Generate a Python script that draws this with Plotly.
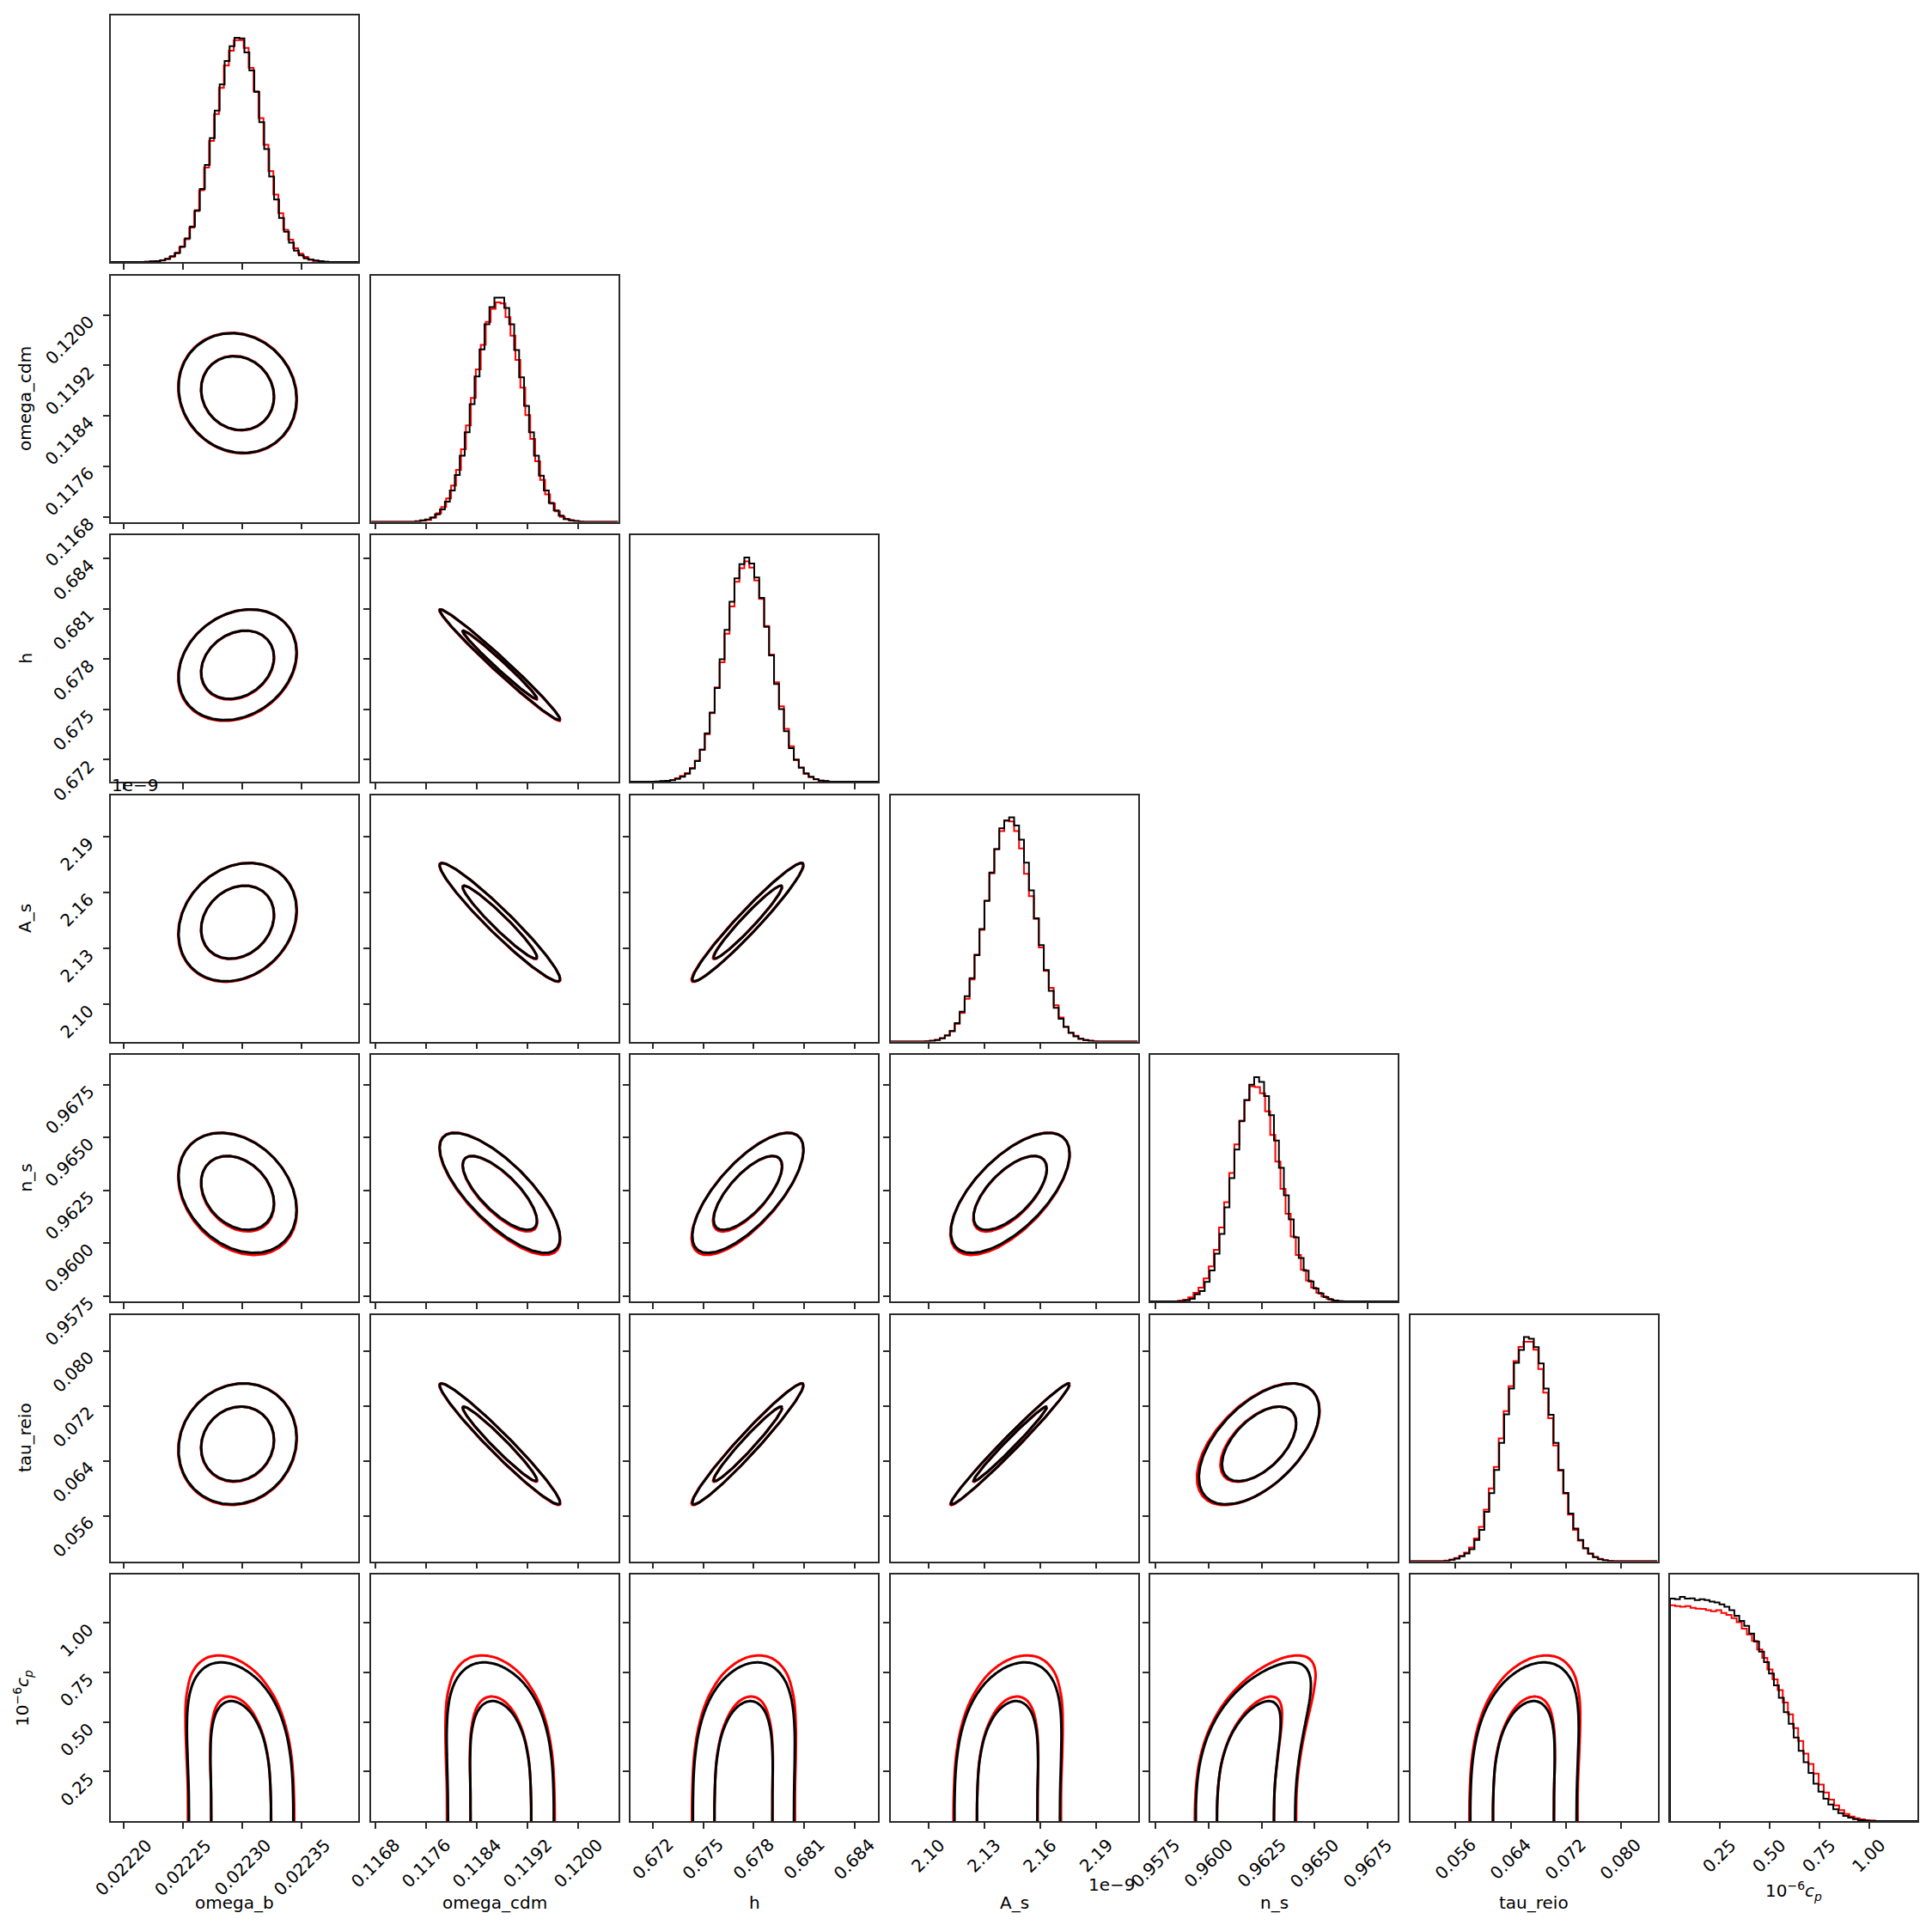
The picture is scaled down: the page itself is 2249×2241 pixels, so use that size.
import numpy as np
import plotly.graph_objects as go

# ---------------------------------------------------------------- data
param_labels = ["omega_b", "omega_cdm", "h", "A_s", "n_s", "tau_reio",
                "10<sup>−6</sup><i>c</i><sub><i>p</i></sub>"]

tick_values = [
    [0.02220, 0.02225, 0.02230, 0.02235],
    [0.1168, 0.1176, 0.1184, 0.1192, 0.1200],
    [0.672, 0.675, 0.678, 0.681, 0.684],
    [2.10, 2.13, 2.16, 2.19],
    [0.9575, 0.9600, 0.9625, 0.9650, 0.9675],
    [0.056, 0.064, 0.072, 0.080],
    [0.25, 0.50, 0.75, 1.00],
]
tick_labels = [
    ["0.02220", "0.02225", "0.02230", "0.02235"],
    ["0.1168", "0.1176", "0.1184", "0.1192", "0.1200"],
    ["0.672", "0.675", "0.678", "0.681", "0.684"],
    ["2.10", "2.13", "2.16", "2.19"],
    ["0.9575", "0.9600", "0.9625", "0.9650", "0.9675"],
    ["0.056", "0.064", "0.072", "0.080"],
    ["0.25", "0.50", "0.75", "1.00"],
]
axis_ranges = [
    [0.0221894, 0.0223975],
    [0.116723, 0.120628],
    [0.670671, 0.685395],
    [2.07975, 2.21222],
    [0.957257, 0.968905],
    [0.04941, 0.0853],
    [0.0, 1.243],
]

# histogram counts (50 bins over each axis range), black = last chain, red = first chain
hist_black_omega_b = [0,0,0,0,0,0,0,1,2,3, 6,11,20,32,54,83,124,181,256,340,
                      434,530,622,704,756,785,783,734,671,596, 490,396,299,219,154,106,68,40,23,13,
                      8,5,3,1,0,0,0,0,0,0]
hist_red_omega_b = [0,0,0,0,0,0,0,1,2,3, 5,10,18,30,52,80,120,178,251,331,
                    424,518,610,688,740,777,777,750,680,598, 504,411,318,236,171,113,78,48,29,18,
                    8,4,2,1,0,0,0,0,0,0]
hist_black_omega_cdm = [0,0,0,0,0,0,0,0,0,2, 5,8,15,26,44,71,110,164,232,314,
                        412,509,604,692,752,785,785,749,692,602, 506,406,314,232,162,110,66,40,22,10,
                        6,3,1,0,0,0,0,0,0,0]
hist_red_omega_cdm = [0,0,0,0,0,0,0,0,0,1, 4,7,15,30,52,82,127,182,254,338,
                      434,534,620,700,746,769,765,717,652,567, 470,374,290,212,147,96,64,37,17,10,
                      4,2,0,0,0,0,0,0,0,0]
hist_black_h = [0,0,0,0,0,1,2,3,5,10, 17,28,46,72,112,169,242,328,429,532,
                630,712,762,785,764,715,644,542,442,342, 254,177,117,76,49,29,17,9,4,2,
                0,0,0,0,0,0,0,0,0,0]
hist_red_h = [0,0,0,0,0,0,1,3,6,12, 20,30,48,74,112,166,240,330,418,518,
              614,700,748,772,750,705,640,545,445,348, 264,185,124,78,50,27,16,8,4,2,
              0,0,0,0,0,0,0,0,0,0]
hist_black_A_s = [0,0,0,0,0,0,0,1,2,5, 11,21,36,65,105,159,222,303,395,493,
                  593,675,748,775,786,758,708,627,530,432, 338,251,178,118,80,51,31,18,10,5,
                  2,0,0,0,0,0,0,0,0,0]
hist_red_A_s = [0,0,0,0,0,0,0,1,3,6, 12,22,38,62,100,150,218,305,392,494,
                590,675,738,775,772,738,677,588,510,430, 330,248,188,127,84,52,30,20,9,5,
                3,1,0,0,0,0,0,0,0,0]
hist_black_n_s = [0,0,0,0,0,0,1,4,9,25, 36,68,108,166,235,328,430,530,629,703,
                  756,782,766,716,650,561,466,370,286,223, 151,107,70,45,28,15,7,3,1,0,
                  0,0,0,0,0,0,0,0,0,0]
hist_red_n_s = [0,0,0,0,0,0,2,6,14,30, 48,80,122,180,258,346,448,548,631,701,
                750,748,726,663,581,488,393,306,226,162, 110,73,48,30,17,9,3,1,0,0,
                0,0,0,0,0,0,0,0,0,0]
hist_black_tau_reio = [0,0,0,0,0,0,0,1,5,9, 17,27,42,74,110,173,238,319,414,514,
                       604,694,739,784,778,749,692,604,512,414, 319,239,167,114,74,45,26,14,7,3,
                       1,0,0,0,0,0,0,0,0,0]
hist_red_tau_reio = [0,0,0,0,0,0,0,2,5,11, 19,30,48,80,120,180,255,330,430,525,
                     612,700,750,768,768,740,672,590,500,405, 317,237,163,110,72,46,27,15,8,4,
                     1,0,0,0,0,0,0,0,0,0]
hist_black_c_p = [778,776,784,778,779,773,776,773,768,765, 758,750,738,718,700,683,656,628,593,556,
                  516,475,431,381,340,292,246,206,168,131, 103,78,58,41,28,18,12,7,3,2,
                  0,0,0,0,0,0,0,0,0,0]
hist_red_c_p = [755,752,750,752,746,743,742,738,734,738, 728,721,710,696,673,653,630,600,571,530,
                496,458,415,373,325,280,236,200,166,128, 100,75,55,38,25,16,10,6,3,2,
                0,0,0,0,0,0,0,0,0,0]

hist_black = [hist_black_omega_b, hist_black_omega_cdm, hist_black_h, hist_black_A_s,
              hist_black_n_s, hist_black_tau_reio, hist_black_c_p]
hist_red = [hist_red_omega_b, hist_red_omega_cdm, hist_red_h, hist_red_A_s,
            hist_red_n_s, hist_red_tau_reio, hist_red_c_p]
# red chain bins: offset (in black-bin units) and width ratio
red_bin_shift = [-0.15, 0.25, 0.0, 0.0, -0.6, -0.1, 0.0]
red_bin_scale = [1.0, 1.0, 1.0, 1.0, 1.035, 1.0, 1.036]

# 2D summary of the six gaussian-like parameters (A_s in units of 1e-9)
mean_black = [0.022296, 0.118762, 0.677656, 2.14390, 0.962381, 0.06649]
sigma_black = [2.026e-5, 3.877e-4, 1.3515e-3, 0.012986, 1.1578e-3, 3.595e-3]
mean_red = [0.022296, 0.118762, 0.677630, 2.14380, 0.962340, 0.06645]
sigma_red = [2.04e-5, 3.90e-4, 1.36e-3, 0.01305, 1.18e-3, 3.62e-3]
corr_black = [
    [1.00, -0.10, 0.22, 0.20, -0.28, 0.10],
    [-0.10, 1.00, -0.985, -0.96, -0.75, -0.97],
    [0.22, -0.985, 1.00, 0.965, 0.72, 0.97],
    [0.20, -0.96, 0.965, 1.00, 0.65, 0.985],
    [-0.28, -0.75, 0.72, 0.65, 1.00, 0.55],
    [0.10, -0.97, 0.97, 0.985, 0.55, 1.00],
]
contour_levels = [0.68, 0.95]

# c_p arches: centre at c_p = 0, width, centre drift read at c_p = 0.8, and contour tops
cp_arch_center = [0.022299, 0.118778, 0.67739, 2.1423, 0.96174, 0.06585]
cp_arch_sigma = [1.97e-5, 3.75e-4, 1.35e-3, 0.01268, 1.05e-3, 3.46e-3]
cp_arch_drift = [-1.68e-5, -2.65e-4, 8.3e-4, 0.0095, 0.0022, 0.00297]
cp_drift_ref = 0.8
cp_drift_power = 2.5
cp_tops_black = [0.605, 0.80]
cp_tops_red = [0.628, 0.835]

# ---------------------------------------------------------------- layout
W, H = 2249, 2241
ML, MR, MT, MB = 129, 17, 18, 121
PW, PH = W - ML - MR, H - MT - MB
PITCH, PANEL_W, PANEL_H = 302.5, 288.0, 287.0
FONT = "DejaVu Sans"
NP = 7
FRAME = "#2a2a2a"
RED, BLACK = "#ff0000", "#000000"


def pxx(px):
    return (px - ML) / PW


def pxy(py):
    return 1 - (py - MT) / PH


def ref(n, a):
    return a if n == 1 else f"{a}{n}"


def axkey(n, a):
    return f"{a}axis" if n == 1 else f"{a}axis{n}"


axis_style = dict(showline=True, linecolor=FRAME, linewidth=1.6, mirror=True,
                  ticks="outside", ticklen=7, tickwidth=1.6, tickcolor=FRAME,
                  showgrid=False, zeroline=False, showticklabels=False, fixedrange=True)

fig = go.Figure()
layout_axes = {}
annotations = []
tfont = dict(family=FONT, size=20, color="black")


def step_xy(edges, counts):
    xs = np.concatenate([[edges[0]], edges])
    ys = np.concatenate([[0.0], np.asarray(counts, float), [0.0]])
    return xs, ys


def ellipse(mx, my, sx, sy, rho, r):
    t = np.linspace(0, 2 * np.pi, 241)
    x = mx + r * sx * np.cos(t)
    y = my + r * sy * (rho * np.cos(t) + np.sqrt(1 - rho ** 2) * np.sin(t))
    return x, y


def smooth_profile(counts):
    c = np.pad(np.asarray(counts, float), 1, mode="edge")
    return np.convolve(c, [0.25, 0.5, 0.25], mode="valid")


cp_lo, cp_hi = axis_ranges[6]
bw_cp = (cp_hi - cp_lo) / 50
cent_black_cp = cp_lo + (np.arange(50) + 0.5) * bw_cp
bw_cp_red = bw_cp * red_bin_scale[6]
cent_red_cp = cp_lo + red_bin_shift[6] * bw_cp + (np.arange(50) + 0.5) * bw_cp_red
prof_black = smooth_profile(hist_black_c_p)
prof_red = smooth_profile(hist_red_c_p)

n = 0
for i in range(NP):
    for j in range(i + 1):
        n += 1
        x0, y0 = j * PITCH, i * PITCH
        xd = [max(0.0, x0 / PW), min(1.0, (x0 + PANEL_W) / PW)]
        yd = [max(0.0, 1 - (y0 + PANEL_H) / PH), min(1.0, 1 - y0 / PH)]
        layout_axes[axkey(n, "x")] = dict(domain=xd, range=axis_ranges[j], anchor=ref(n, "y"),
                                          tickvals=tick_values[j], **axis_style)
        xr, yr = ref(n, "x"), ref(n, "y")
        if i == j:
            ymax = 1.1 * max(hist_black[i])
            ya = dict(axis_style)
            ya.update(ticks="")
            layout_axes[axkey(n, "y")] = dict(domain=yd, range=[0, ymax], anchor=xr, **ya)
            lo, hi = axis_ranges[i]
            bw = (hi - lo) / 50
            e_black = lo + np.arange(51) * bw
            e_red = lo + red_bin_shift[i] * bw + np.arange(51) * bw * red_bin_scale[i]
            for edges, cnt, col in ((e_red, hist_red[i], RED), (e_black, hist_black[i], BLACK)):
                xs, ys = step_xy(edges, cnt)
                fig.add_trace(go.Scatter(x=xs, y=ys, mode="lines", line=dict(color=col, width=2, shape="hv"),
                                         xaxis=xr, yaxis=yr, hoverinfo="skip"))
        else:
            layout_axes[axkey(n, "y")] = dict(domain=yd, range=axis_ranges[i], anchor=xr,
                                              tickvals=tick_values[i], **axis_style)
            if i < 6:
                for mean, sig, col in ((mean_red, sigma_red, RED), (mean_black, sigma_black, BLACK)):
                    xs_all, ys_all = [], []
                    for p in contour_levels:
                        r = np.sqrt(-2 * np.log(1 - p))
                        ex, ey = ellipse(mean[j], mean[i], sig[j], sig[i], corr_black[i][j], r)
                        xs_all += list(ex) + [None]
                        ys_all += list(ey) + [None]
                    fig.add_trace(go.Scatter(x=xs_all, y=ys_all, mode="lines",
                                             line=dict(color=col, width=3), xaxis=xr, yaxis=yr,
                                             hoverinfo="skip"))
            else:
                xg = np.linspace(axis_ranges[j][0], axis_ranges[j][1], 160)
                cg = np.linspace(cp_lo, cp_hi, 160)
                X, C = np.meshgrid(xg, cg)
                centre = cp_arch_center[j] + cp_arch_drift[j] * (C / cp_drift_ref) ** cp_drift_power
                for cent, prof, tops, col in ((cent_red_cp, prof_red, cp_tops_red, RED),
                                              (cent_black_cp, prof_black, cp_tops_black, BLACK)):
                    fc = np.interp(C, cent, prof)
                    Z = fc * np.exp(-0.5 * ((X - centre) / cp_arch_sigma[j]) ** 2)
                    Z = np.round(Z, 3)
                    L_in = float(np.interp(tops[0], cent, prof))
                    L_out = float(np.interp(tops[1], cent, prof))
                    step = L_in - L_out
                    fig.add_trace(go.Contour(x=xg, y=cg, z=Z, autocontour=False,
                                             contours=dict(coloring="none", start=L_out,
                                                           end=L_in + 0.01 * step, size=step),
                                             line=dict(color=col, width=3, smoothing=1),
                                             showscale=False, xaxis=xr, yaxis=yr, hoverinfo="skip"))

        # tick labels (rotated 45 degrees, as real text)
        if i == NP - 1:
            for v, lab in zip(tick_values[j], tick_labels[j]):
                annotations.append(dict(x=v, xref=xr, y=pxy(2133), yref="paper", text=lab,
                                        textangle=-45, xanchor="center", yanchor="top",
                                        showarrow=False, font=tfont))
        if j == 0 and i > 0:
            for v, lab in zip(tick_values[i], tick_labels[i]):
                annotations.append(dict(x=pxx(117), xref="paper", y=v, yref=yr, yshift=7, text=lab,
                                        textangle=-45, xanchor="right", yanchor="top",
                                        showarrow=False, font=tfont))

# axis titles
for j in range(NP):
    cx = pxx(ML + j * PITCH + PANEL_W / 2)
    ypos = 2201 if j == 6 else 2215
    annotations.append(dict(x=cx, xref="paper", y=pxy(ypos), yref="paper", text=param_labels[j],
                            xanchor="center", yanchor="middle", showarrow=False, font=tfont))
for i in range(1, NP):
    cy = pxy(MT + i * PITCH + PANEL_H / 2)
    annotations.append(dict(x=pxx(43), xref="paper", y=cy, yref="paper", text=param_labels[i],
                            textangle=-90, xanchor="right", yanchor="middle", showarrow=False,
                            font=tfont))
# offset texts for A_s
annotations.append(dict(x=pxx(128), xref="paper", y=pxy(913.5), yref="paper", text="1e−9",
                        xanchor="left", yanchor="middle", showarrow=False, font=tfont))
annotations.append(dict(x=pxx(1324), xref="paper", y=pxy(2193.5), yref="paper", text="1e−9",
                        xanchor="right", yanchor="middle", showarrow=False, font=tfont))

fig.update_layout(width=W, height=H, margin=dict(l=ML, r=MR, t=MT, b=MB, pad=0),
                  paper_bgcolor="white", plot_bgcolor="white", showlegend=False,
                  template="none", font=dict(family=FONT, size=20, color="black"),
                  annotations=annotations, **layout_axes)
fig.write_html("out.html", config={"displayModeBar": False})
